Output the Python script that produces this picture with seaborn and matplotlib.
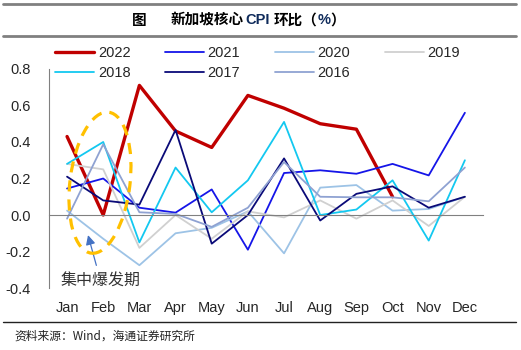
import numpy as np
import pandas as pd
import seaborn as sns
import matplotlib
matplotlib.use('Agg')
from matplotlib import pyplot as plt
from matplotlib.patches import Ellipse
import matplotlib.transforms as mtransforms

months = ['Jan', 'Feb', 'Mar', 'Apr', 'May', 'Jun', 'Jul', 'Aug', 'Sep', 'Oct', 'Nov', 'Dec']
years = ['2022', '2021', '2020', '2019', '2018', '2017', '2016']

#monthly core CPI change (2022 stops at Oct)
cpi_2022 = [0.43, 0.00, 0.71, 0.46, 0.37, 0.655, 0.585, 0.50, 0.47, 0.10, np.nan, np.nan]
cpi_2021 = [0.145, 0.20, 0.04, 0.013, 0.14, -0.19, 0.23, 0.245, 0.226, 0.28, 0.217, 0.56]
cpi_2020 = [0.024, -0.13, -0.275, -0.10, -0.07, 0.02, -0.21, 0.15, 0.164, 0.024, 0.033, 0.10]
cpi_2019 = [0.28, 0.25, -0.18, 0.00, -0.13, 0.02, -0.013, 0.08, -0.02, 0.08, -0.06, 0.10]
cpi_2018 = [0.28, 0.40, -0.15, 0.26, 0.015, 0.19, 0.51, 0.00, 0.03, 0.19, -0.14, 0.30]
cpi_2017 = [0.21, 0.08, 0.057, 0.466, -0.157, 0.00, 0.31, -0.03, 0.116, 0.157, 0.04, 0.10]
cpi_2016 = [-0.02, 0.387, 0.015, 0.006, -0.065, 0.04, 0.29, 0.10, 0.097, 0.097, 0.075, 0.26]

colors = ['#c00000', '#1515e8', '#9dc3e6', '#d0d0d0', '#13c8f0', '#0a0a78', '#8fa2d2']

series = [cpi_2022, cpi_2021, cpi_2020, cpi_2019, cpi_2018, cpi_2017, cpi_2016]
df = pd.DataFrame({
    'month': months * len(years),
    'year': np.repeat(years, len(months)),
    'value': np.concatenate(series),
})

sns.set_style('white')
plt.rcParams['font.family'] = ['Liberation Sans', 'Noto Sans CJK SC', 'DejaVu Sans']

fig = plt.figure(figsize=(5.21, 3.5), dpi=100)
ax = fig.add_axes([0.094, 0.177, 0.833, 0.626])

sns.lineplot(data=df, x='month', y='value', hue='year', hue_order=years,
             palette=colors, sort=False, linewidth=1.3, ax=ax, legend=True)
ax.lines[0].set_linewidth(2.4)

ax.set_xlim(-0.5, 11.5)
ax.set_ylim(-0.4, 0.8)
ax.set_yticks(np.arange(-0.4, 0.81, 0.2))
ax.set_yticklabels([f'{v:.1f}' for v in np.arange(-0.4, 0.81, 0.2)], fontsize=10.5)
ax.set_xlabel('')
ax.set_ylabel('')

#x axis sits on zero, month names at the bottom
for s in ['top', 'right']:
    ax.spines[s].set_visible(False)
ax.spines['left'].set_color('#808080')
ax.spines['bottom'].set_color('#808080')
ax.spines['bottom'].set_position(('data', 0))
ax.set_xticks(np.arange(-0.5, 12, 1))
ax.set_xticklabels([])
ax.tick_params(axis='x', direction='out', length=4, color='#808080', width=1)
ax.tick_params(axis='y', direction='out', length=3, color='#808080', width=1, pad=10)

sec = ax.secondary_xaxis('bottom')
sec.set_xticks(range(12))
sec.set_xticklabels(months, fontsize=10.5)
sec.tick_params(length=0, pad=9)
sec.spines['bottom'].set_visible(False)

handles, labels = ax.get_legend_handles_labels()
ax.get_legend().remove()
for h in handles:
    h.set_linewidth(1.3)
handles[0].set_linewidth(2.4)
#legend fills by column, so reorder to read row by row
order = [0, 4, 1, 5, 2, 6, 3]
fig.legend([handles[i] for i in order], [labels[i] for i in order],
           loc='upper left', bbox_to_anchor=(0.08, 0.905), ncol=4,
           frameon=False, fontsize=10.5, handlelength=2.7, handletextpad=0.25,
           columnspacing=2.35, labelspacing=0.4)

#orange dashed ellipse around Jan-Feb
trans = fig.dpi_scale_trans + mtransforms.ScaledTranslation(0.91, 0.177, ax.transData)
ax.add_patch(Ellipse((0, 0), 0.6, 1.42, angle=-7, transform=trans, fill=False,
                     edgecolor='#ffc000', linewidth=2.3, linestyle=(0, (3.5, 2.5)), zorder=5))
ax.annotate('集中爆发期', xy=(0.58, -0.11), xytext=(0.92, -0.355),
            fontsize=11.5, color='#333333', ha='center', va='center',
            family=['Noto Sans CJK SC'],
            arrowprops=dict(arrowstyle='-|>', color='#4472c4', lw=0.9,
                            mutation_scale=14, shrinkA=2, shrinkB=0))

#title bar
fig.add_artist(plt.Line2D([0.006, 0.99], [0.99, 0.99], color='#808080', lw=2))
fig.add_artist(plt.Line2D([0.006, 0.99], [0.897, 0.897], color='#808080', lw=2))
renderer = fig.canvas.get_renderer()
pieces = [('图', 'black', 'Noto Sans CJK SC', 24),
          ('新加坡核心', 'black', 'Noto Sans CJK SC', 2),
          ('CPI', '#0f2b5b', 'Liberation Sans', 3),
          ('环比（', 'black', 'Noto Sans CJK SC', 0),
          ('%', '#0f2b5b', 'Liberation Sans', 0),
          ('）', 'black', 'Noto Sans CJK SC', 0)]
x_px = 132
for txt, col, fam, gap in pieces:
    t = fig.text(x_px / 521, 0.943, txt, fontsize=10.5, fontweight='bold', ha='left',
                 va='center', color=col, family=[fam])
    x_px += t.get_window_extent(renderer).width + gap

#source line
fig.add_artist(plt.Line2D([0.006, 0.99], [0.08, 0.08], color='#222222', lw=1))
fig.text(0.027, 0.04, '资料来源：Wind，海通证券研究所', fontsize=8.5, ha='left', va='center',
         color='#222222', family=['Noto Sans CJK SC'])

plt.savefig('out.png', dpi=100)
